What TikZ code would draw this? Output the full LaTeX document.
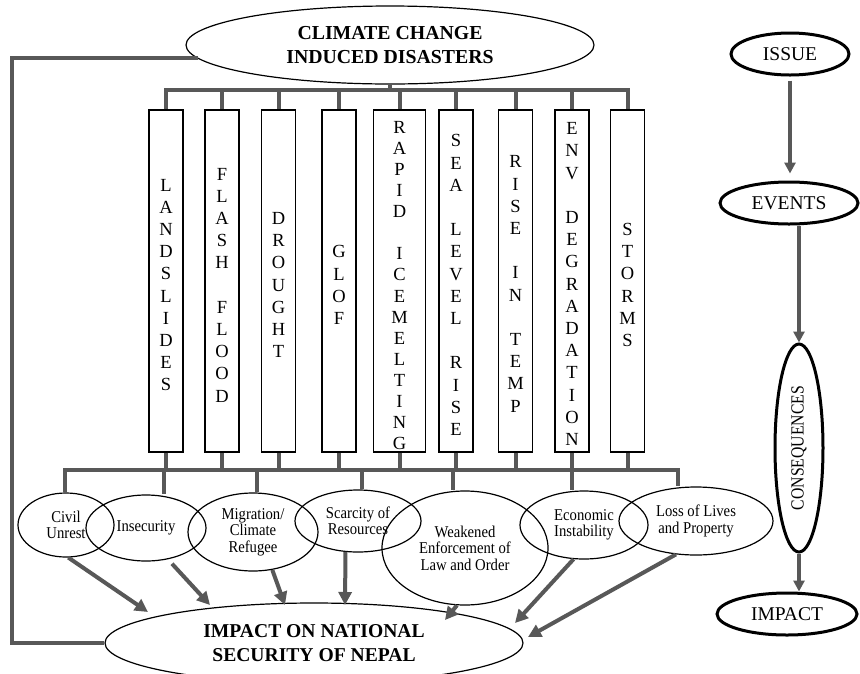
\documentclass[tikz,border=0pt]{standalone}
\usepackage{fontspec}
\setmainfont{Liberation Serif}
\newfontfamily\narrowfont[FakeStretch=0.89]{Liberation Serif}
\newfontfamily\condfont[FakeStretch=0.85]{Liberation Serif}
\usetikzlibrary{shapes.geometric,arrows.meta,calc}
\definecolor{conngray}{HTML}{585858}
\begin{document}
\begin{tikzpicture}[x=1pt,y=-1pt,
  conn/.style={draw=conngray,line width=4pt},
  arr/.style={conn,-{Triangle[length=13pt,width=13pt]}},
  arrtwo/.style={draw=conngray,line width=3.5pt,-{Triangle[length=11pt,width=11pt]}},
  dbox/.style={draw,line width=1.3pt,minimum width=34pt,minimum height=342pt,inner sep=0pt},
  vlet/.style={font=\fontsize{18.5}{22.2}\selectfont,align=center,inner sep=0pt},
  oval/.style={ellipse,draw,line width=1.2pt,inner sep=0pt},
  lbl/.style={oval,font=\narrowfont\fontsize{16.5}{16.5}\selectfont,align=center},
  bigoval/.style={oval,font=\bfseries\fontsize{19.8}{23.5}\selectfont,align=center},
  chain/.style={ellipse,draw,line width=3pt,inner sep=0pt,font=\fontsize{19.5}{19.5}\selectfont},
]
\clip (0,0) rectangle (860,673);

% top ellipse
\node[bigoval,minimum width=408pt,minimum height=78pt] (ccid) at (390,45) {CLIMATE CHANGE\\INDUCED DISASTERS};

% boxes
\node[dbox] (b1) at (166,281) {};
\node[dbox] (b2) at (222,281) {};
\node[dbox] (b3) at (278.5,281) {};
\node[dbox] (b4) at (339,281) {};
\node[dbox,minimum width=52pt] (b5) at (399.5,281) {};
\node[dbox] (b6) at (456,281) {};
\node[dbox] (b7) at (515.5,281) {};
\node[dbox] (b8) at (572,281) {};
\node[dbox] (b9) at (627.5,281) {};

\node[vlet] (t1) at (166,285) {L\\A\\N\\D\\S\\L\\I\\D\\E\\S};
\node[vlet] (t2) at (222,285) {F\\L\\A\\S\\H\\\mbox{}\\F\\L\\O\\O\\D};
\node[vlet] (t3) at (278.5,285) {D\\R\\O\\U\\G\\H\\T};
\node[vlet] (t4) at (339,285) {G\\L\\O\\F};
\node[vlet,font=\fontsize{18.5}{21.1}\selectfont] (t5) at (399.5,285.5) {R\\A\\P\\I\\D\\\mbox{}\\I\\C\\E\\M\\E\\L\\T\\I\\N\\G};
\node[vlet] (t6) at (456,285) {S\\E\\A\\\mbox{}\\L\\E\\V\\E\\L\\\mbox{}\\R\\I\\S\\E};
\node[vlet] (t7) at (515.5,284) {R\\I\\S\\E\\\mbox{}\\I\\N\\\mbox{}\\T\\E\\M\\P};
\node[vlet] (t8) at (572,284) {E\\N\\V\\\mbox{}\\D\\E\\G\\R\\A\\D\\A\\T\\I\\O\\N};
\node[vlet] (t9) at (627.5,285) {S\\T\\O\\R\\M\\S};

% upper bus
\coordinate (tb) at (0,90);
\draw[conn] (ccid.south) -- (ccid.south |- tb);
\draw[conn] (b1.north) -- (b1.north |- tb) -- (b9.north |- tb) -- (b9.north);
\foreach \i in {2,...,8} { \draw[conn] (b\i.north |- tb) -- (b\i.north); }

% lower ellipses
\node[lbl,minimum width=96pt,minimum height=64pt] (cu) at (66,525) {Civil\\Unrest};
\node[lbl,minimum width=120pt,minimum height=66pt] (ins) at (146,528) {Insecurity};
\node[lbl,minimum width=130pt,minimum height=78pt] (mig) at (253,532) {Migration/\\Climate\\Refugee};
\node[lbl,minimum width=126pt,minimum height=62pt] (sca) at (358,521) {Scarcity of\\Resources};
\node[lbl,minimum width=166pt,minimum height=114pt] (wea) at (465,548) {Weakened\\Enforcement of\\Law and Order};
\node[lbl,minimum width=128pt,minimum height=68pt] (eco) at (584,525) {Economic\\Instability};
\node[lbl,minimum width=154pt,minimum height=68pt] (lol) at (696,521) {Loss of Lives\\and Property};

% lower bus
\coordinate (bb) at (0,470);
\foreach \i in {1,...,9} { \draw[conn] (b\i.south) -- (b\i.south |- bb); }
\coordinate (d1) at (65,470);
\coordinate (d2) at (164,470);
\coordinate (d3) at (257,470);
\coordinate (d4) at (362,470);
\coordinate (d5) at (453,470);
\coordinate (d6) at (572,470);
\coordinate (d7) at (678,470);
\draw[conn] (d1 |- cu.north) -- (d1) -- (d7) -- (d7 |- lol.north);
\draw[conn] (d2) -- (d2 |- ins.north);
\draw[conn] (d3) -- (d3 |- mig.north);
\draw[conn] (d4) -- (d4 |- sca.north);
\draw[conn] (d5) -- (d5 |- wea.north);
\draw[conn] (d6) -- (d6 |- eco.north);

% bottom ellipse
\node[bigoval,minimum width=418pt,minimum height=80pt,font=\bfseries\fontsize{19.6}{24}\selectfont] (imp) at (314,643) {IMPACT ON NATIONAL\\SECURITY OF NEPAL};

\coordinate (e1) at ($(imp.center)+(-166,-31)$);
\coordinate (e2) at ($(imp.center)+(-104,-38)$);
\coordinate (e3) at ($(imp.center)+(-29,-38)$);
\coordinate (e4) at ($(imp.center)+(31,-38)$);
\coordinate (e5) at ($(imp.center)+(131,-23)$);
\coordinate (e6) at ($(imp.center)+(201,-20)$);
\coordinate (e7) at ($(imp.center)+(214,-6)$);
\draw[arr] (cu.-86) -- (e1);
\draw[arr,shorten <=6pt] (ins.-55) -- (e2);
\draw[arr] (mig.-63) -- (e3);
\draw[arr] (sca.-112) -- (e4);
\draw[arr] (wea.-98) -- (e5);
\draw[arr] (eco.-107) -- (e6);
\draw[arr] (lol.-121) -- (e7);

% feedback line
\coordinate (fb) at (12,643);
\draw[conn] (ccid.184) -| (fb) -- (imp.west);

% right chain
\node[chain,minimum width=118pt,minimum height=42pt] (issue) at (790,54) {ISSUE};
\node[chain,minimum width=138pt,minimum height=42pt] (events) at (789,203) {EVENTS};
\node[chain,minimum width=208pt,minimum height=48pt,rotate=90,font=\condfont\fontsize{18.5}{18.5}\selectfont] (cons) at (799,448) {CONSEQUENCES};
\node[chain,minimum width=140pt,minimum height=42pt] (impact) at (787,614) {IMPACT};

\draw[arrtwo,shorten <=4pt,shorten >=7pt] (issue.south) -- (issue.south |- events.north);
\draw[arrtwo] (cons.east |- events.south) -- (cons.east);
\draw[arrtwo] (cons.west) -- (cons.west |- impact.north);
\end{tikzpicture}
\end{document}
